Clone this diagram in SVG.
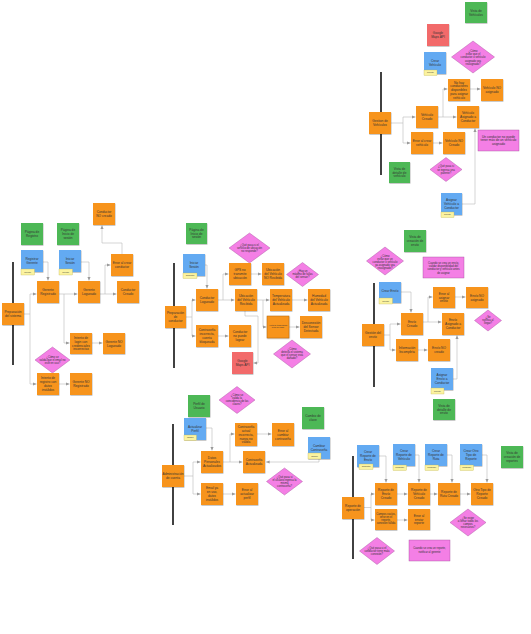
<svg xmlns="http://www.w3.org/2000/svg" width="531" height="634" viewBox="0 0 531 634">
<defs>
<filter id="sh" x="-20%" y="-20%" width="140%" height="140%"><feDropShadow dx="0.4" dy="0.6" stdDeviation="0.4" flood-opacity="0.35"/></filter>
<marker id="a" markerWidth="4" markerHeight="4" refX="3.6" refY="2" orient="auto" markerUnits="userSpaceOnUse"><path d="M0,0.4 L3.6,2 L0,3.6 Z" fill="#9a9a9a"/></marker>
<style>
.o{fill:#f7941d;filter:url(#sh)}
.g{fill:#4db856;filter:url(#sh)}
.b{fill:#64aaf2;filter:url(#sh)}
.r{fill:#f26b6b;filter:url(#sh)}
.p{fill:#f47fe5;stroke:#a24b9a;stroke-width:0.4}
.tg{fill:#fbf3a0;stroke:#b8ac4a;stroke-width:0.3}
.lane{stroke:#111;stroke-width:1.6}
.c{fill:none;stroke:#b8b8b8;stroke-width:0.6;marker-end:url(#a)}
text{font-family:"Liberation Sans",Arial,sans-serif;font-size:3.2px;fill:#333;text-anchor:middle}
.s{font-size:2.7px}
.xs{font-size:1.9px}
</style>
</defs>
<rect width="531" height="634" fill="#fff"/>

<g id="lanes">
<line class="lane" x1="381" y1="72" x2="381" y2="175"/>
<line class="lane" x1="374" y1="283" x2="374" y2="387"/>
<line class="lane" x1="353" y1="456" x2="353" y2="559"/>
<line class="lane" x1="13" y1="262" x2="13" y2="365"/>
<line class="lane" x1="174" y1="263" x2="174" y2="368"/>
<line class="lane" x1="173" y1="424" x2="173" y2="525"/>
</g>

<g id="connectors">
<path class="c" d="M391,123 H403 V117 H415.5"/>
<path class="c" d="M403,123 V143 H410.5"/>
<path class="c" d="M438,117 H456.5"/>
<path class="c" d="M443,117 V89 H447.5"/>
<path class="c" d="M470,89 H480.5"/>
<path class="c" d="M433,143 H442.5"/>
<path class="c" d="M462,204 H475 V128.5"/>

<path class="c" d="M384,335 H390 V324 H400.5"/>
<path class="c" d="M390,335 V350 H395.5"/>
<path class="c" d="M401,292 H411 V312.5"/>
<path class="c" d="M423,322 H441.5"/>
<path class="c" d="M428,322 V297 H432.5"/>
<path class="c" d="M455,297 H465.5"/>
<path class="c" d="M418,350 H427.5"/>
<path class="c" d="M453,379 H457 V335.5"/>

<path class="c" d="M364,507.5 H371 V494 H374.5"/>
<path class="c" d="M371,507.5 V520 H374.5"/>
<path class="c" d="M397,494 H407.5"/>
<path class="c" d="M430,494 H437.5"/>
<path class="c" d="M460,494 H470.5"/>
<path class="c" d="M397,520 H407.5"/>
<path class="c" d="M379,456 H386 V482.5"/>
<path class="c" d="M415,455 H419 V482.5"/>
<path class="c" d="M447,455 H452 V482.5"/>
<path class="c" d="M482,455 H487 V482.5"/>

<path class="c" d="M43,262 H48 V280.5"/>
<path class="c" d="M81,262 H89 V280.5"/>
<path class="c" d="M59,294 H77.5"/>
<path class="c" d="M64,294 V343 H69.5"/>
<path class="c" d="M100,294 H105 V265 H110.5"/>
<path class="c" d="M105,294 H116.5"/>
<path class="c" d="M122,254 V243 H102 V225.5"/>
<path class="c" d="M24,314 H30 V294 H36.5"/>
<path class="c" d="M30,314 V384 H36.5"/>
<path class="c" d="M92,343 H102.5"/>
<path class="c" d="M59,384 H69.5"/>

<path class="c" d="M205,265 H207 V288.5"/>
<path class="c" d="M186,317 H192 V300 H195.5"/>
<path class="c" d="M192,317 V336 H195.5"/>
<path class="c" d="M218,300 H234.5"/>
<path class="c" d="M223,300 V274 H228.5"/>
<path class="c" d="M251,274 H261.5"/>
<path class="c" d="M257,300 H269.5"/>
<path class="c" d="M292,300 H307.5"/>
<path class="c" d="M263,300 V327 H266.5"/>
<path class="c" d="M289,327 H299.5"/>
<path class="c" d="M245,311 V316 H258 V363 H253.5"/>
<path class="c" d="M218,336 H228.5"/>

<path class="c" d="M206,428 H212 V450.5"/>
<path class="c" d="M184,476 H193 V462 H200.5"/>
<path class="c" d="M193,476 V494 H200.5"/>
<path class="c" d="M223,462 H242.5"/>
<path class="c" d="M230,462 V434 H234.5"/>
<path class="c" d="M257,434 H271.5"/>
<path class="c" d="M319,459 V462 H266"/>
<path class="c" d="M223,494 H235.5"/>
</g>

<!-- Top right: vehiculos -->
<g id="vista-vehiculos"><rect class="g" x="465" y="2" width="22" height="21"/><text x="476" y="11.7"><tspan x="476">Vista de</tspan><tspan x="476" dy="3.8">Vehículos</tspan></text></g>
<g id="google-maps-1"><rect class="r" x="427" y="24" width="22" height="22"/><text x="438" y="34.3"><tspan x="438">Google</tspan><tspan x="438" dy="3.8">Maps API</tspan></text></g>
<g id="q-reasignado-1"><path class="p" d="M473,41 L494.5,57 L473,73 L451.5,57 Z"/><text class="s" x="473" y="52"><tspan x="473">¿Cómo</tspan><tspan x="473" dy="3.2">evitar que el</tspan><tspan x="473" dy="3.2">conductor o vehículo</tspan><tspan x="473" dy="3.2">asignado sea</tspan><tspan x="473" dy="3.2">reasignado?</tspan></text></g>
<g id="crear-vehiculo"><rect class="b" x="424" y="52" width="22" height="22"/><text x="435" y="62.3"><tspan x="435">Crear</tspan><tspan x="435" dy="3.8">Vehículo</tspan></text><rect class="tg" x="424" y="70" width="13" height="5.5"/><text class="xs" x="430.5" y="73.4">Gerente</text></g>
<g id="no-hay-conductores"><rect class="o" x="448" y="79" width="22" height="22"/><text x="459" y="83.6"><tspan x="459">No hay</tspan><tspan x="459" dy="3.8">conductores</tspan><tspan x="459" dy="3.8">disponibles</tspan><tspan x="459" dy="3.8">para asignar</tspan><tspan x="459" dy="3.8">vehículo</tspan></text></g>
<g id="vehiculo-no-asignado"><rect class="o" x="481" y="79" width="22" height="22"/><text x="492" y="89.3"><tspan x="492">Vehículo NO</tspan><tspan x="492" dy="3.8">asignado</tspan></text></g>
<g id="gestion-vehiculos"><rect class="o" x="369" y="112" width="22" height="22"/><text x="380" y="122.3"><tspan x="380">Gestion de</tspan><tspan x="380" dy="3.8">Vehículos</tspan></text></g>
<g id="vehiculo-creado"><rect class="o" x="416" y="106" width="22" height="22"/><text x="427" y="116.3"><tspan x="427">Vehículo</tspan><tspan x="427" dy="3.8">Creado</tspan></text></g>
<g id="vehiculo-asignado"><rect class="o" x="457" y="106" width="22" height="22"/><text x="468" y="114.4"><tspan x="468">Vehículo</tspan><tspan x="468" dy="3.8">Asignado a</tspan><tspan x="468" dy="3.8">Conductor</tspan></text></g>
<g id="error-crear-vehiculo"><rect class="o" x="411" y="132" width="22" height="22"/><text x="422" y="142.3"><tspan x="422">Error al crear</tspan><tspan x="422" dy="3.8">vehículo</tspan></text></g>
<g id="vehiculo-no-creado"><rect class="o" x="443" y="132" width="22" height="22"/><text x="454" y="142.3"><tspan x="454">Vehículo NO</tspan><tspan x="454" dy="3.8">Creado</tspan></text></g>
<g id="nota-un-conductor"><rect class="p" x="478" y="130" width="41" height="21"/><text x="498.5" y="137.5"><tspan x="498.5">Un conductor no puede</tspan><tspan x="498.5" dy="3.8">tener más de un vehículo</tspan><tspan x="498.5" dy="3.8">asignado</tspan></text></g>
<g id="q-patente"><path class="p" d="M446,157.5 L462,169.5 L446,181.5 L430,169.5 Z"/><text class="s" x="446" y="167.3"><tspan x="446">¿Qué pasa si</tspan><tspan x="446" dy="3.2">se ingresa una</tspan><tspan x="446" dy="3.2">patente?</tspan></text></g>
<g id="vista-detalle-vehiculo"><rect class="g" x="389" y="162" width="21" height="21"/><text x="399.5" y="169.8"><tspan x="399.5">Vista de</tspan><tspan x="399.5" dy="3.8">detalle de</tspan><tspan x="399.5" dy="3.8">vehículo</tspan></text></g>
<g id="asignar-vehiculo"><rect class="b" x="441" y="193" width="21" height="22"/><text x="451.5" y="201.4"><tspan x="451.5">Asignar</tspan><tspan x="451.5" dy="3.8">Vehículo a</tspan><tspan x="451.5" dy="3.8">Conductor</tspan></text><rect class="tg" x="441" y="212" width="13" height="5.5"/><text class="xs" x="447.5" y="215.4">Gerente</text></g>

<!-- Right middle: envio -->
<g id="vista-creacion-envio"><rect class="g" x="404" y="230" width="22" height="22"/><text x="415" y="238.4"><tspan x="415">Vista de</tspan><tspan x="415" dy="3.8">creación de</tspan><tspan x="415" dy="3.8">envío</tspan></text></g>
<g id="q-reasignado-2"><path class="p" d="M385,247 L403.5,261 L385,275 L366.5,261 Z"/><text class="s" x="385" y="256.5"><tspan x="385">¿Cómo</tspan><tspan x="385" dy="3">evitar que un</tspan><tspan x="385" dy="3">conductor o vehículo</tspan><tspan x="385" dy="3">ya asignado sea</tspan><tspan x="385" dy="3">reasignado?</tspan></text></g>
<g id="nota-crear-envio"><rect class="p" x="423" y="257" width="41" height="21"/><text class="s" x="443.5" y="263.6"><tspan x="443.5">Cuando se crea un envío,</tspan><tspan x="443.5" dy="3.3">validar disponibilidad del</tspan><tspan x="443.5" dy="3.3">conductor y vehículo antes</tspan><tspan x="443.5" dy="3.3">de asignar</tspan></text></g>
<g id="crear-envio"><rect class="b" x="379" y="282" width="22" height="21"/><text x="390" y="292">Crear Envío</text><rect class="tg" x="379" y="298" width="13.5" height="6"/><text class="xs" x="385.7" y="301.6">Gerente</text></g>
<g id="error-asignar-envio"><rect class="o" x="433" y="287" width="22" height="21"/><text x="444" y="294.8"><tspan x="444">Error al</tspan><tspan x="444" dy="3.8">asignar</tspan><tspan x="444" dy="3.8">envío</tspan></text></g>
<g id="envio-no-asignado"><rect class="o" x="466" y="287" width="22" height="21"/><text x="477" y="296.7"><tspan x="477">Envío NO</tspan><tspan x="477" dy="3.8">asignado</tspan></text></g>
<g id="envio-creado"><rect class="o" x="401" y="313" width="22" height="22"/><text x="412" y="323.3"><tspan x="412">Envío</tspan><tspan x="412" dy="3.8">Creado</tspan></text></g>
<g id="envio-asignado"><rect class="o" x="442" y="313" width="22" height="22"/><text x="453" y="321.4"><tspan x="453">Envío</tspan><tspan x="453" dy="3.8">Asignado a</tspan><tspan x="453" dy="3.8">Conductor</tspan></text></g>
<g id="q-notifica"><path class="p" d="M488,310 L501.5,320.5 L488,331 L474.5,320.5 Z"/><text class="s" x="488" y="318.3"><tspan x="488">¿Se</tspan><tspan x="488" dy="3">notifica al</tspan><tspan x="488" dy="3">llegar?</tspan></text></g>
<g id="gestion-envio"><rect class="o" x="362" y="324" width="22" height="22"/><text x="373" y="334.3"><tspan x="373">Gestión del</tspan><tspan x="373" dy="3.8">envío</tspan></text></g>
<g id="info-incompleta"><rect class="o" x="396" y="339" width="22" height="22"/><text x="407" y="349.3"><tspan x="407">Información</tspan><tspan x="407" dy="3.8">Incompleta</tspan></text></g>
<g id="envio-no-creado"><rect class="o" x="428" y="339" width="22" height="22"/><text x="439" y="349.3"><tspan x="439">Envío NO</tspan><tspan x="439" dy="3.8">creado</tspan></text></g>
<g id="asignar-envio"><rect class="b" x="431" y="368" width="22" height="22"/><text x="442" y="376.4"><tspan x="442">Asignar</tspan><tspan x="442" dy="3.8">Envío a</tspan><tspan x="442" dy="3.8">Conductor</tspan></text><rect class="tg" x="431" y="388" width="13" height="6"/><text class="xs" x="437.5" y="391.6">Gerente</text></g>
<g id="vista-detalle-envio"><rect class="g" x="433" y="399" width="22" height="21"/><text x="444" y="406.8"><tspan x="444">Vista de</tspan><tspan x="444" dy="3.8">detalle de</tspan><tspan x="444" dy="3.8">envío</tspan></text></g>

<!-- Bottom right: reportes -->
<g id="crear-reporte-envio"><rect class="b" x="357" y="445" width="22" height="22"/><text x="368" y="453.4"><tspan x="368">Crear</tspan><tspan x="368" dy="3.8">Reporte de</tspan><tspan x="368" dy="3.8">Envío</tspan></text><rect class="tg" x="359" y="464" width="14" height="5.5"/><text class="xs" x="366" y="467.4">Conductor</text></g>
<g id="crear-reporte-vehiculo"><rect class="b" x="393" y="444" width="22" height="22"/><text x="404" y="452.4"><tspan x="404">Crear</tspan><tspan x="404" dy="3.8">Reporte de</tspan><tspan x="404" dy="3.8">Vehículo</tspan></text><rect class="tg" x="393" y="465" width="13.5" height="5.5"/><text class="xs" x="399.7" y="468.4">Conductor</text></g>
<g id="crear-reporte-ruta"><rect class="b" x="425" y="444" width="22" height="22"/><text x="436" y="452.4"><tspan x="436">Crear</tspan><tspan x="436" dy="3.8">Reporte de</tspan><tspan x="436" dy="3.8">Ruta</tspan></text><rect class="tg" x="425" y="465" width="13.5" height="5.5"/><text class="xs" x="431.7" y="468.4">Conductor</text></g>
<g id="crear-otro-reporte"><rect class="b" x="460" y="444" width="22" height="22"/><text x="471" y="452.4"><tspan x="471">Crear Otro</tspan><tspan x="471" dy="3.8">Tipo de</tspan><tspan x="471" dy="3.8">Reporte</tspan></text><rect class="tg" x="460" y="465" width="13.5" height="5.5"/><text class="xs" x="466.7" y="468.4">Conductor</text></g>
<g id="vista-creacion-reportes"><rect class="g" x="501" y="446" width="22" height="22"/><text x="512" y="454.4"><tspan x="512">Vista de</tspan><tspan x="512" dy="3.8">creación de</tspan><tspan x="512" dy="3.8">reportes</tspan></text></g>
<g id="reporte-operacion"><rect class="o" x="342" y="497" width="22" height="22"/><text x="353" y="507.3"><tspan x="353">Reporte de</tspan><tspan x="353" dy="3.8">operación</tspan></text></g>
<g id="reporte-envio-creado"><rect class="o" x="375" y="483" width="22" height="22"/><text x="386" y="491.4"><tspan x="386">Reporte de</tspan><tspan x="386" dy="3.8">Envío</tspan><tspan x="386" dy="3.8">Creado</tspan></text></g>
<g id="reporte-vehiculo-creado"><rect class="o" x="408" y="483" width="22" height="22"/><text x="419" y="491.4"><tspan x="419">Reporte de</tspan><tspan x="419" dy="3.8">Vehículo</tspan><tspan x="419" dy="3.8">Creado</tspan></text></g>
<g id="reporte-ruta-creado"><rect class="o" x="438" y="483" width="22" height="22"/><text x="449" y="493.3"><tspan x="449">Reporte de</tspan><tspan x="449" dy="3.8">Ruta Creado</tspan></text></g>
<g id="otro-reporte-creado"><rect class="o" x="471" y="483" width="22" height="22"/><text x="482" y="491.4"><tspan x="482">Otro Tipo de</tspan><tspan x="482" dy="3.8">Reporte</tspan><tspan x="482" dy="3.8">Creado</tspan></text></g>
<g id="campos-vacios"><rect class="o" x="375" y="509" width="22" height="21"/><text class="s" x="386" y="514.6"><tspan x="386">Campos vacíos,</tspan><tspan x="386" dy="3.2">error en el</tspan><tspan x="386" dy="3.2">reporte,</tspan><tspan x="386" dy="3.2">conexión fallida</tspan></text></g>
<g id="error-enviar-reporte"><rect class="o" x="408" y="509" width="22" height="21"/><text x="419" y="516.8"><tspan x="419">Error al</tspan><tspan x="419" dy="3.8">enviar</tspan><tspan x="419" dy="3.8">reporte</tspan></text></g>
<g id="q-campos"><path class="p" d="M468,509 L486,522.5 L468,536 L450,522.5 Z"/><text class="s" x="468" y="518.6"><tspan x="468">¿Se exige</tspan><tspan x="468" dy="3">a llenar todos los</tspan><tspan x="468" dy="3">campos</tspan><tspan x="468" dy="3">necesarios?</tspan></text></g>
<g id="q-conexion"><path class="p" d="M377,537.5 L394.5,551 L377,564.5 L359.5,551 Z"/><text class="s" x="377" y="548.5"><tspan x="377">¿Qué pasa si el</tspan><tspan x="377" dy="3">conductor tiene mala</tspan><tspan x="377" dy="3">conexión?</tspan></text></g>
<g id="nota-reporte"><rect class="p" x="409" y="540" width="41" height="21"/><text class="s" x="429.5" y="549.3"><tspan x="429.5">Cuando se crea un reporte,</tspan><tspan x="429.5" dy="3.3">notificar al gerente</tspan></text></g>

<!-- Left: preparacion del sistema -->
<g id="conductor-no-creado"><rect class="o" x="93" y="203" width="22" height="22"/><text x="104" y="213.3"><tspan x="104">Conductor</tspan><tspan x="104" dy="3.8">NO creado</tspan></text></g>
<g id="pagina-registro"><rect class="g" x="21" y="223" width="22" height="22"/><text x="32" y="233.3"><tspan x="32">Página de</tspan><tspan x="32" dy="3.8">Registro</tspan></text></g>
<g id="pagina-inicio-1"><rect class="g" x="57" y="223" width="22" height="22"/><text x="68" y="231.4"><tspan x="68">Página de</tspan><tspan x="68" dy="3.8">Inicio de</tspan><tspan x="68" dy="3.8">sesión</tspan></text></g>
<g id="registrar-gerente"><rect class="b" x="21" y="250" width="22" height="22"/><text x="32" y="260.3"><tspan x="32">Registrar</tspan><tspan x="32" dy="3.8">Gerente</tspan></text><rect class="tg" x="21" y="269" width="13.5" height="6"/><text class="xs" x="27.7" y="272.6">Gerente</text></g>
<g id="iniciar-sesion-1"><rect class="b" x="59" y="250" width="22" height="22"/><text x="70" y="260.3"><tspan x="70">Iniciar</tspan><tspan x="70" dy="3.8">Sesión</tspan></text><rect class="tg" x="59" y="269" width="13.5" height="6"/><text class="xs" x="65.7" y="272.6">Gerente</text></g>
<g id="preparacion-sistema"><rect class="o" x="2" y="303" width="22" height="22"/><text x="13" y="313.3"><tspan x="13">Preparación</tspan><tspan x="13" dy="3.8">del sistema</tspan></text></g>
<g id="gerente-registrado"><rect class="o" x="37" y="281" width="22" height="22"/><text x="48" y="291.3"><tspan x="48">Gerente</tspan><tspan x="48" dy="3.8">Registrado</tspan></text></g>
<g id="gerente-logueado"><rect class="o" x="78" y="281" width="22" height="22"/><text x="89" y="291.3"><tspan x="89">Gerente</tspan><tspan x="89" dy="3.8">Logueado</tspan></text></g>
<g id="error-crear-conductor"><rect class="o" x="111" y="254" width="22" height="22"/><text x="122" y="264.3"><tspan x="122">Error al crear</tspan><tspan x="122" dy="3.8">conductor</tspan></text></g>
<g id="conductor-creado"><rect class="o" x="117" y="281" width="22" height="22"/><text x="128" y="291.3"><tspan x="128">Conductor</tspan><tspan x="128" dy="3.8">Creado</tspan></text></g>
<g id="intento-login"><rect class="o" x="70" y="333" width="22" height="21"/><text x="81" y="338.9"><tspan x="81">Intento de</tspan><tspan x="81" dy="3.8">login con</tspan><tspan x="81" dy="3.8">credenciales</tspan><tspan x="81" dy="3.8">incorrectas</tspan></text></g>
<g id="gerente-no-logueado"><rect class="o" x="103" y="333" width="22" height="21"/><text x="114" y="342.8"><tspan x="114">Gerente NO</tspan><tspan x="114" dy="3.8">Logueado</tspan></text></g>
<g id="q-email"><path class="p" d="M52.5,347 L70,360 L52.5,373 L35,360 Z"/><text class="s" x="52.5" y="357.8"><tspan x="52.5">¿Cómo se</tspan><tspan x="52.5" dy="3">valida que el email no</tspan><tspan x="52.5" dy="3">esté en uso?</tspan></text></g>
<g id="intento-registro"><rect class="o" x="37" y="373" width="22" height="22"/><text x="48" y="379.4"><tspan x="48">Intento de</tspan><tspan x="48" dy="3.8">registro con</tspan><tspan x="48" dy="3.8">datos</tspan><tspan x="48" dy="3.8">inválidos</tspan></text></g>
<g id="gerente-no-registrado"><rect class="o" x="70" y="373" width="22" height="22"/><text x="81" y="383.3"><tspan x="81">Gerente NO</tspan><tspan x="81" dy="3.8">Registrado</tspan></text></g>

<!-- Middle: preparacion de conductor -->
<g id="pagina-inicio-2"><rect class="g" x="186" y="223" width="21" height="21"/><text x="196.5" y="230.8"><tspan x="196.5">Página de</tspan><tspan x="196.5" dy="3.8">Inicio de</tspan><tspan x="196.5" dy="3.8">sesión</tspan></text></g>
<g id="q-ubicacion"><path class="p" d="M249.5,233 L270,248 L249.5,263 L229,248 Z"/><text class="s" x="249.5" y="245.5"><tspan x="249.5">¿Qué pasa si el</tspan><tspan x="249.5" dy="3">servicio de ubicación</tspan><tspan x="249.5" dy="3">no responde?</tspan></text></g>
<g id="iniciar-sesion-2"><rect class="b" x="183" y="254" width="22" height="22"/><text x="194" y="264.3"><tspan x="194">Iniciar</tspan><tspan x="194" dy="3.8">Sesión</tspan></text><rect class="tg" x="183" y="273" width="14" height="5.5"/><text class="xs" x="190" y="276.4">Conductor</text></g>
<g id="gps-no-transmite"><rect class="o" x="229" y="263" width="22" height="22"/><text x="240" y="271.4"><tspan x="240">GPS no</tspan><tspan x="240" dy="3.8">transmite</tspan><tspan x="240" dy="3.8">ubicación</tspan></text></g>
<g id="ubicacion-no-recibida"><rect class="o" x="262" y="263" width="22" height="22"/><text x="273" y="271.4"><tspan x="273">Ubicación</tspan><tspan x="273" dy="3.8">del Vehículo</tspan><tspan x="273" dy="3.8">NO Recibida</tspan></text></g>
<g id="q-fallas"><path class="p" d="M302.5,262.5 L318.5,274.5 L302.5,286.5 L286.5,274.5 Z"/><text class="s" x="302.5" y="272.3"><tspan x="302.5">¿Hay un</tspan><tspan x="302.5" dy="3">máximo de fallas</tspan><tspan x="302.5" dy="3">del sensor?</tspan></text></g>
<g id="conductor-logueado"><rect class="o" x="196" y="289" width="22" height="22"/><text x="207" y="299.3"><tspan x="207">Conductor</tspan><tspan x="207" dy="3.8">Logueado</tspan></text></g>
<g id="ubicacion-recibida"><rect class="o" x="235" y="289" width="22" height="22"/><text x="246" y="297.4"><tspan x="246">Ubicación</tspan><tspan x="246" dy="3.8">del Vehículo</tspan><tspan x="246" dy="3.8">Recibida</tspan></text></g>
<g id="temperatura-actualizada"><rect class="o" x="270" y="289" width="22" height="22"/><text x="281" y="297.4"><tspan x="281">Temperatura</tspan><tspan x="281" dy="3.8">del Vehículo</tspan><tspan x="281" dy="3.8">Actualizada</tspan></text></g>
<g id="humedad-actualizada"><rect class="o" x="308" y="289" width="22" height="22"/><text x="319" y="297.4"><tspan x="319">Humedad</tspan><tspan x="319" dy="3.8">del Vehículo</tspan><tspan x="319" dy="3.8">Actualizada</tspan></text></g>
<g id="preparacion-conductor"><rect class="o" x="165" y="306" width="21" height="22"/><text x="175.5" y="314.4"><tspan x="175.5">Preparación</tspan><tspan x="175.5" dy="3.8">de</tspan><tspan x="175.5" dy="3.8">conductor</tspan></text></g>
<g id="contrasena-bloqueada"><rect class="o" x="196" y="325" width="22" height="22"/><text x="207" y="331.4"><tspan x="207">Contraseña</tspan><tspan x="207" dy="3.8">incorrecta,</tspan><tspan x="207" dy="3.8">cuenta</tspan><tspan x="207" dy="3.8">bloqueada</tspan></text></g>
<g id="conductor-no-logea"><rect class="o" x="229" y="325" width="22" height="22"/><text x="240" y="333.4"><tspan x="240">Conductor</tspan><tspan x="240" dy="3.8">no puede</tspan><tspan x="240" dy="3.8">logear</tspan></text></g>
<g id="google-maps-2"><rect class="r" x="232" y="352" width="21" height="22"/><text x="242.5" y="362.3"><tspan x="242.5">Google</tspan><tspan x="242.5" dy="3.8">Maps API</tspan></text></g>
<g id="temperatura-fuera-rango"><rect class="o" x="267" y="316" width="22" height="22" style="stroke:#b5650f;stroke-width:0.5"/><text class="xs" x="278" y="325.8"><tspan x="278">Alerta de temperatura</tspan><tspan x="278" dy="2.6">fuera de rango</tspan></text></g>
<g id="desconexion-sensor"><rect class="o" x="300" y="316" width="22" height="22"/><text x="311" y="324.4"><tspan x="311">Desconexión</tspan><tspan x="311" dy="3.8">del Sensor</tspan><tspan x="311" dy="3.8">Detectada</tspan></text></g>
<g id="q-sensor"><path class="p" d="M292,340 L310.5,354 L292,368 L273.5,354 Z"/><text class="s" x="292" y="350"><tspan x="292">¿Cómo</tspan><tspan x="292" dy="3">detecta el sistema</tspan><tspan x="292" dy="3">que el sensor está</tspan><tspan x="292" dy="3">dañado?</tspan></text></g>

<!-- Bottom middle: administracion de cuenta -->
<g id="q-claves"><path class="p" d="M237,386.5 L255,400 L237,413.5 L219,400 Z"/><text class="s" x="237" y="396.1"><tspan x="237">¿Cómo se</tspan><tspan x="237" dy="3">valida la</tspan><tspan x="237" dy="3">coincidencia de las</tspan><tspan x="237" dy="3">claves?</tspan></text></g>
<g id="perfil-usuario"><rect class="g" x="188" y="395" width="22" height="22"/><text x="199" y="405.3"><tspan x="199">Perfil de</tspan><tspan x="199" dy="3.8">Usuario</tspan></text></g>
<g id="cambio-clave"><rect class="g" x="302" y="407" width="22" height="22"/><text x="313" y="417.3"><tspan x="313">Cambio de</tspan><tspan x="313" dy="3.8">clave</tspan></text></g>
<g id="actualizar-perfil"><rect class="b" x="184" y="418" width="22" height="22"/><text x="195" y="428.3"><tspan x="195">Actualizar</tspan><tspan x="195" dy="3.8">Perfil</tspan></text><rect class="tg" x="184" y="435" width="12.5" height="5.5"/><text class="xs" x="190.2" y="438.4">Usuario</text></g>
<g id="contrasena-incorrecta"><rect class="o" x="235" y="423" width="22" height="23"/><text x="246" y="428.1"><tspan x="246">Contraseña</tspan><tspan x="246" dy="3.8">actual</tspan><tspan x="246" dy="3.8">incorrecta,</tspan><tspan x="246" dy="3.8">nueva no</tspan><tspan x="246" dy="3.8">válida</tspan></text></g>
<g id="error-cambiar-contrasena"><rect class="o" x="272" y="423" width="22" height="23"/><text x="283" y="431.9"><tspan x="283">Error al</tspan><tspan x="283" dy="3.8">cambiar</tspan><tspan x="283" dy="3.8">contraseña</tspan></text></g>
<g id="cambiar-contrasena"><rect class="b" x="308" y="437" width="22" height="22"/><text x="319" y="447.3"><tspan x="319">Cambiar</tspan><tspan x="319" dy="3.8">Contraseña</tspan></text><rect class="tg" x="308" y="453" width="13" height="6"/><text class="xs" x="314.5" y="456.6">Usuario</text></g>
<g id="datos-actualizados"><rect class="o" x="201" y="451" width="22" height="22"/><text x="212" y="459.4"><tspan x="212">Datos</tspan><tspan x="212" dy="3.8">Personales</tspan><tspan x="212" dy="3.8">Actualizados</tspan></text></g>
<g id="contrasena-actualizada"><rect class="o" x="243" y="451" width="22" height="22"/><text x="254" y="461.3"><tspan x="254">Contraseña</tspan><tspan x="254" dy="3.8">Actualizada</tspan></text></g>
<g id="administracion-cuenta"><rect class="o" x="162" y="465" width="22" height="22"/><text x="173" y="475.3"><tspan x="173">Administración</tspan><tspan x="173" dy="3.8">de cuenta</tspan></text></g>
<g id="email-en-uso"><rect class="o" x="201" y="483" width="22" height="22"/><text x="212" y="489.4"><tspan x="212">Email ya</tspan><tspan x="212" dy="3.8">en uso,</tspan><tspan x="212" dy="3.8">datos</tspan><tspan x="212" dy="3.8">inválidos</tspan></text></g>
<g id="error-actualizar-perfil"><rect class="o" x="236" y="483" width="22" height="22"/><text x="247" y="491.4"><tspan x="247">Error al</tspan><tspan x="247" dy="3.8">actualizar</tspan><tspan x="247" dy="3.8">perfil</tspan></text></g>
<g id="q-misma-contrasena"><path class="p" d="M284.5,468 L302.5,481.5 L284.5,495 L266.5,481.5 Z"/><text class="s" x="284.5" y="477.6"><tspan x="284.5">¿Qué pasa si</tspan><tspan x="284.5" dy="3">el usuario ingresa la</tspan><tspan x="284.5" dy="3">misma</tspan><tspan x="284.5" dy="3">contraseña?</tspan></text></g>
</svg>
